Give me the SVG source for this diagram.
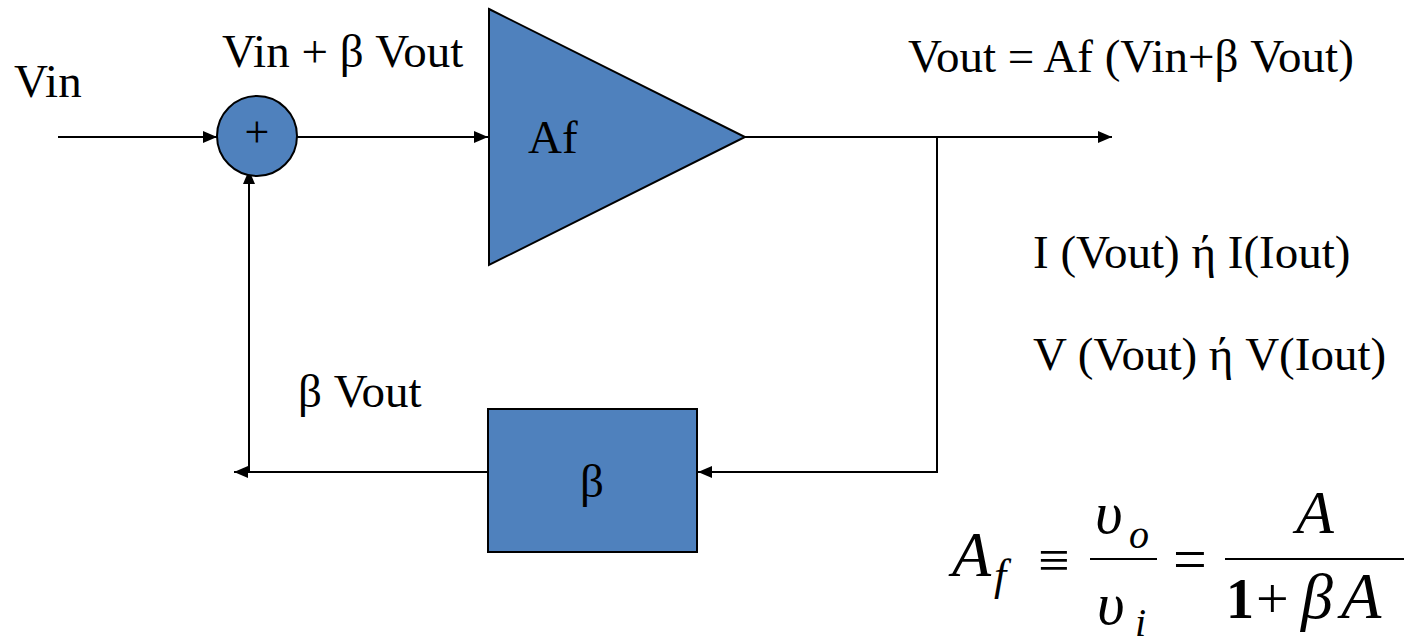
<svg xmlns="http://www.w3.org/2000/svg" width="1405" height="644" viewBox="0 0 1405 644">
<style>
.shape{fill:#4F81BD;stroke:#000;stroke-width:2}
.ln{stroke:#000;stroke-width:2;fill:none}
.lbl{font-family:'Liberation Serif',serif;font-size:47px;fill:#000}
.mi{font-family:'Liberation Serif',serif;font-style:italic;fill:#000}
.mr{font-family:'Liberation Serif',serif;fill:#000}
</style>
<defs>
<marker id="ah" markerWidth="14" markerHeight="12" refX="14" refY="6" orient="auto" markerUnits="userSpaceOnUse">
<path d="M0,0 L14,6 L0,12 Z" fill="#000"/>
</marker>
</defs>
<g id="connectors">
<line class="ln" x1="58" y1="137" x2="217" y2="137" marker-end="url(#ah)"/>
<line class="ln" x1="297" y1="137" x2="488" y2="137" marker-end="url(#ah)"/>
<line class="ln" x1="745" y1="137" x2="1112" y2="137" marker-end="url(#ah)"/>
<polyline class="ln" points="937,137 937,472 698,472" marker-end="url(#ah)"/>
<line class="ln" x1="488" y1="472" x2="234" y2="472" marker-end="url(#ah)"/>
<line class="ln" x1="249" y1="472" x2="249" y2="170" marker-end="url(#ah)"/>
</g>
<g id="summer">
<circle class="shape" cx="257" cy="136" r="40"/>
<text class="mr" x="257" y="147" font-size="44" text-anchor="middle">+</text>
</g>
<g id="amplifier">
<polygon class="shape" points="489,9 745,137 489,265"/>
<text class="lbl" x="528" y="153">Af</text>
</g>
<g id="beta-block">
<rect class="shape" x="488" y="409" width="209" height="143"/>
<text class="lbl" x="592" y="497" text-anchor="middle">β</text>
</g>
<g id="labels">
<text class="lbl" x="14" y="97">Vin</text>
<text class="lbl" x="222" y="67">Vin + β Vout</text>
<text class="lbl" x="908" y="72">Vout = Af (Vin+β Vout)</text>
<text class="lbl" x="298" y="407">β Vout</text>
<text class="lbl" x="1033" y="268">I (Vout) ή I(Iout)</text>
<text class="lbl" x="1033" y="370">V (Vout) ή V(Iout)</text>
</g>
<g id="formula">
<text class="mi" x="952" y="576" font-size="64">A</text>
<text class="mi" x="994" y="590" font-size="44">f</text>
<text class="mr" x="1038" y="579" font-size="56">≡</text>
<text class="mi" x="1095" y="533" font-size="60">υ</text>
<text class="mi" x="1129" y="548" font-size="40">o</text>
<line class="ln" x1="1090" y1="559" x2="1157" y2="559"/>
<text class="mi" x="1097" y="624" font-size="60">υ</text>
<text class="mi" x="1135" y="636" font-size="40">i</text>
<text class="mr" x="1173" y="579" font-size="60">=</text>
<line class="ln" x1="1225" y1="559" x2="1404" y2="559"/>
<text class="mi" x="1296" y="533" font-size="62">A</text>
<text class="mr" x="1226" y="618" font-size="56" font-weight="bold">1</text>
<text class="mr" x="1256" y="618" font-size="58">+</text>
<text class="mi" x="1301" y="618" font-size="64">β</text>
<text class="mi" x="1341" y="618" font-size="66">A</text>
</g>
</svg>
